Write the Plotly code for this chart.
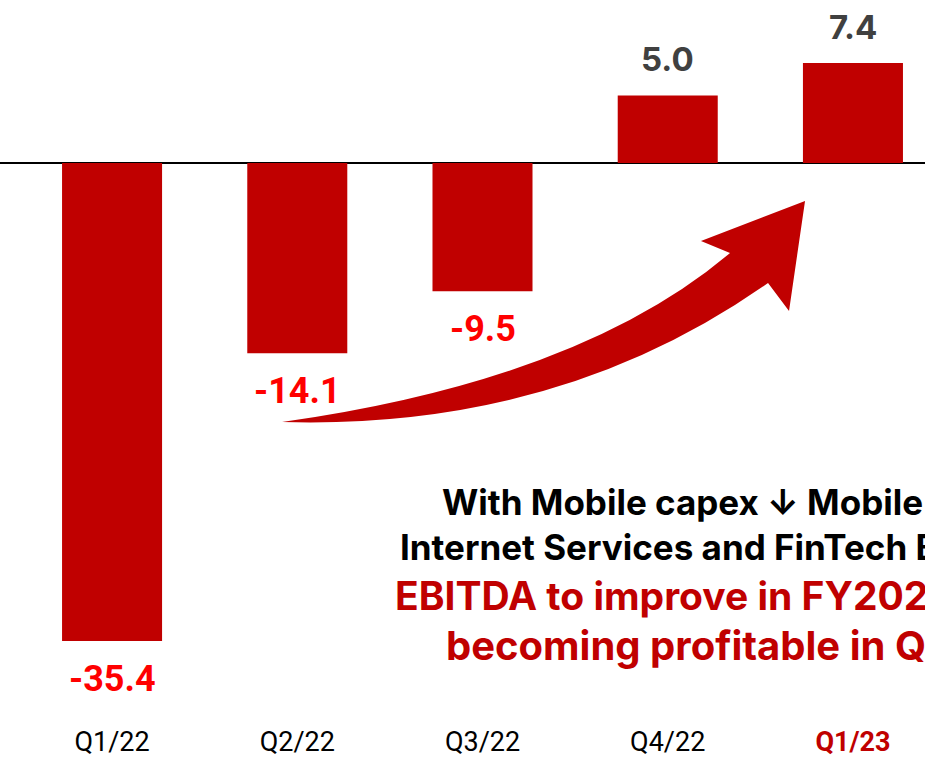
import plotly.graph_objects as go

# data
quarters = ["Q1/22", "Q2/22", "Q3/22", "Q4/22", "Q1/23"]
ebitda = [-35.4, -14.1, -9.5, 5.0, 7.4]

note_lines = [
    "With Mobile capex ↓ Mobile costs ↓",
    "Internet Services and FinTech Business",
    "EBITDA to improve in FY2023,",
    "becoming profitable in Q4/23",
]

W, H = 925, 757
PLOT_H = 717
BAR_RED = "#c00000"
NEG_RED = "#ff0000"
DARK = "#404040"
NOTE_FONT = "Inter, sans-serif"


def px(x, y):
    # pixel -> paper coordinates (used for the decorative arrow/notes only)
    return x / W, 1 - y / PLOT_H


fig = go.Figure()

fig.add_trace(go.Bar(
    x=list(range(len(quarters))),
    y=ebitda,
    width=0.54,
    marker=dict(color=BAR_RED, line=dict(width=0)),
    hoverinfo="skip",
))

# value labels
for i, v in enumerate(ebitda):
    neg = v < 0
    fig.add_annotation(
        x=i, y=v, xref="x", yref="y",
        text=f"{v:.1f}",
        showarrow=False,
        yanchor="middle",
        yshift=-38 if neg else 36,
        font=dict(
            family="Roboto, sans-serif" if neg else "Inter, sans-serif",
            size=36 if neg else 33,
            color=NEG_RED if neg else DARK,
            weight="bold",
        ),
    )

# curved arrow (decoration)
p = lambda x, y: "%.4f %.4f" % px(x, y)
path = (
    f"M {p(282, 422)} "
    f"Q {p(580, 380)} {p(730, 253)} "
    f"L {p(701, 241)} L {p(805, 201)} L {p(789, 311)} L {p(768, 283)} "
    f"Q {p(560, 430)} {p(282, 422)} Z"
)
fig.add_shape(type="path", path=path, xref="paper", yref="paper",
              fillcolor=BAR_RED, line=dict(width=0))

# note text, clipped at the right edge like the source slide
note_pos = [(440, 502, "black", 35), (398, 547, "black", 35),
            (393, 595, BAR_RED, 39), (444, 645, BAR_RED, 40)]
for line, (lx, ly, col, size) in zip(note_lines, note_pos):
    ax, ay = px(lx, ly)
    fig.add_annotation(
        x=ax, y=ay, xref="paper", yref="paper",
        text=line, showarrow=False,
        xanchor="left", yanchor="middle",
        font=dict(family=NOTE_FONT, size=size, color=col, weight="bold"),
    )

ticktext = quarters[:-1] + [f"<b><span style='color:{BAR_RED}'>{quarters[-1]}</span></b>"]

fig.update_layout(
    width=W, height=H,
    margin=dict(l=0, r=0, t=0, b=H - PLOT_H),
    plot_bgcolor="white",
    paper_bgcolor="white",
    showlegend=False,
    xaxis=dict(
        range=[-0.605, 4.389],
        tickvals=list(range(len(quarters))),
        ticktext=ticktext,
        showgrid=False, zeroline=False, showline=False,
        ticks="outside", ticklen=1, tickcolor="white",
        tickfont=dict(family="Roboto, sans-serif", size=27, color="black"),
        automargin=False,
        fixedrange=True,
    ),
    yaxis=dict(
        range=[-41.03, 12.07],
        showgrid=False, showticklabels=False, showline=False,
        zeroline=True, zerolinecolor="black", zerolinewidth=2,
        automargin=False,
        fixedrange=True,
    ),
)

fig.write_html("out.html", config={"displayModeBar": False},
               post_script="document.body.style.margin='0';")
